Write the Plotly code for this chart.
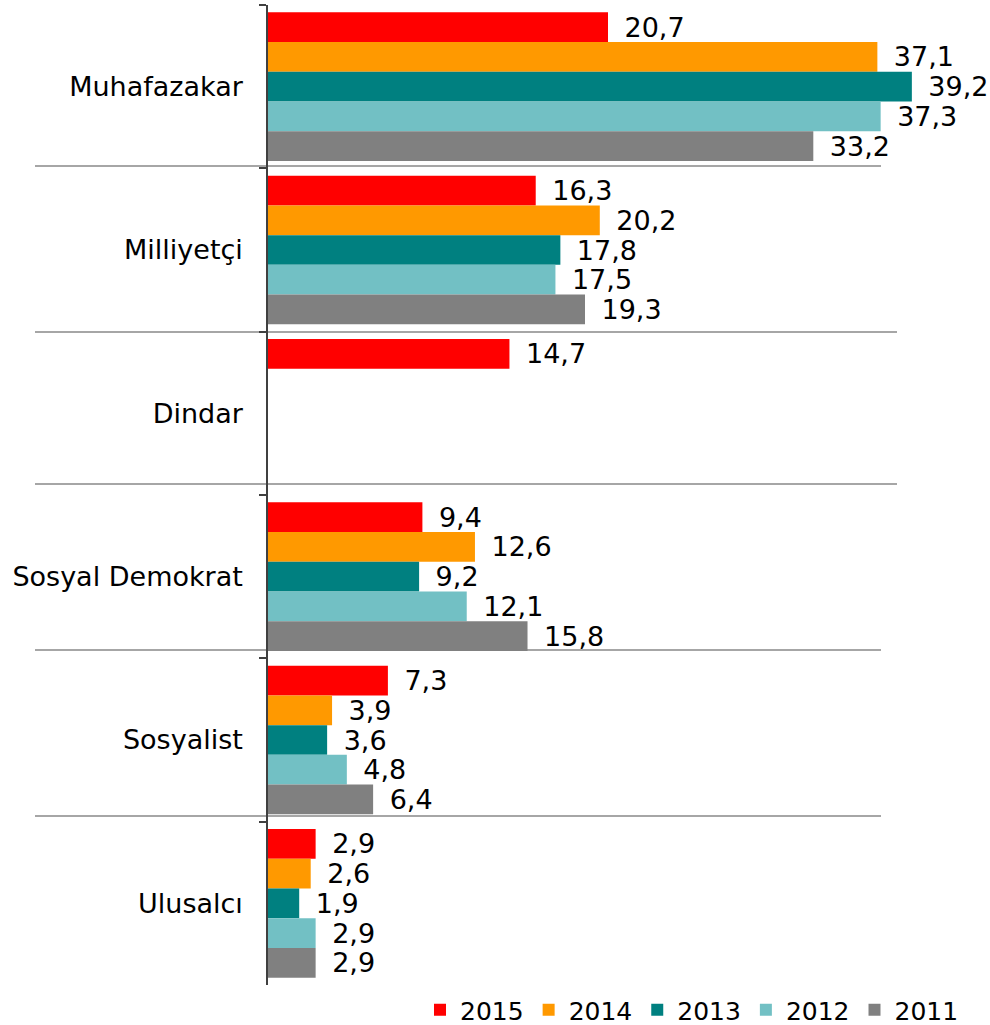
import plotly.graph_objects as go

categories = ["Muhafazakar", "Milliyetçi", "Dindar", "Sosyal Demokrat", "Sosyalist", "Ulusalcı"]
years = ["2015", "2014", "2013", "2012", "2011"]
v2015 = [20.7, 16.3, 14.7, 9.4, 7.3, 2.9]
v2014 = [37.1, 20.2, None, 12.6, 3.9, 2.6]
v2013 = [39.2, 17.8, None, 9.2, 3.6, 1.9]
v2012 = [37.3, 17.5, None, 12.1, 4.8, 2.9]
v2011 = [33.2, 19.3, None, 15.8, 6.4, 2.9]
series = [v2015, v2014, v2013, v2012, v2011]
colors = ["#FF0000", "#FF9900", "#008080", "#72C0C4", "#808080"]

FONT = "DejaVu Sans"

fig = go.Figure()
for name, vals, col in zip(years, series, colors):
    fig.add_trace(go.Bar(
        y=categories, x=vals, name=name, orientation="h",
        marker=dict(color=col, line=dict(width=0)),
        text=vals, texttemplate="\u2002%{x:.1f}", textposition="outside",
        textfont=dict(family=FONT, size=27, color="#000000"),
        cliponaxis=False, constraintext="none",
    ))

L, T, B, R = 268, 5, 40, 65
W = 990 - L - R
H = 1025 - T - B
shapes = []
sep_px = [(166, 881), (332, 897), (484, 897), (650, 881), (816, 881)]
for py, xe in sep_px:
    yp = 1 - (py - T) / H
    shapes.append(dict(type="line", xref="paper", yref="paper",
                       x0=(35 - L) / W, x1=(xe - L) / W, y0=yp, y1=yp,
                       line=dict(color="#A6A6A6", width=2), layer="below"))

fig.update_layout(
    width=990, height=1025,
    margin=dict(l=L, r=R, t=T, b=B, autoexpand=False),
    barmode="group", bargap=0.09, bargroupgap=0,
    separators=",.",
    plot_bgcolor="white", paper_bgcolor="white",
    font=dict(family=FONT, size=27, color="#000000"),
    shapes=shapes,
    legend=dict(orientation="h", xref="container", x=420 / 990, xanchor="left",
                yref="container", y=1 - 1010 / 1025, yanchor="middle",
                font=dict(family=FONT, size=25, color="#000000"),
                traceorder="normal", itemwidth=30),
    xaxis=dict(range=[0, 40], visible=False, showgrid=False, zeroline=False),
    yaxis=dict(type="category", autorange="reversed", showline=True, linecolor="#404040",
               linewidth=1.5, ticks="outside", tickson="boundaries", ticklen=7,
               tickcolor="#404040", tickwidth=1.5, showgrid=False, ticklabelstandoff=18,
               automargin=False,
               tickfont=dict(family=FONT, size=27, color="#000000")),
)

fig.write_html("out.html", config={"displayModeBar": False},
               post_script="document.body.style.margin='0';document.body.style.overflow='hidden';")
